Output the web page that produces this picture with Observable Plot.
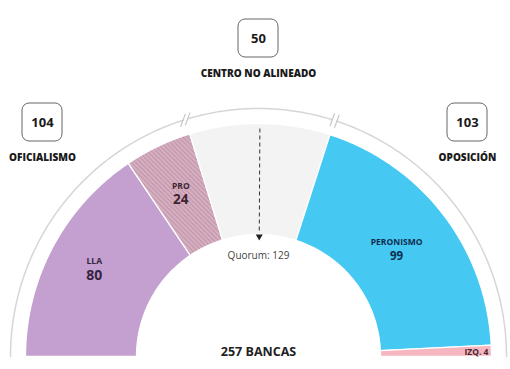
<!DOCTYPE html>
<html><head><meta charset="utf-8">
<script src="https://cdn.jsdelivr.net/npm/d3@7"></script>
<script src="https://cdn.jsdelivr.net/npm/@observablehq/plot@0.6"></script>
<style>body{margin:0;background:#fff;overflow:hidden}</style>
</head><body><div id="chart"></div>
<script>
// ---- data ----
const parties = ["LLA", "PRO", "CENTRO", "PERONISMO", "IZQ."];
const seats = [80, 24, 50, 99, 4];
const partyColors = ["#c3a0cf", "url(#hatch)", "#f3f3f3", "#45c8f2", "#f5b6c0"];
const blocs = ["OFICIALISMO", "CENTRO NO ALINEADO", "OPOSICIÓN"];
const blocSeats = [104, 50, 103];
const totalSeats = 257;
const quorum = 129;
const totalLabel = "257 BANCAS";
const quorumLabel = "Quorum: 129";

// ---- layout ----
const W = 510, H = 369, cx = 258, cy = 356, r0 = 122, r1 = 233, rOut = 248;
const ang = s => Math.PI * (1 - s / totalSeats);
const pt = (s, r) => ({x: cx + r * Math.cos(ang(s)), y: cy - r * Math.sin(ang(s))});

let cum = 0;
const segs = parties.map((p, i) => {
  const a = cum; cum += seats[i];
  return {party: p, seats: seats[i], start: a, end: cum, color: partyColors[i]};
});
function ring(a, b, ri, ro, n = 80) {
  const pts = [];
  for (let k = 0; k <= n; k++) pts.push(pt(a + (b - a) * k / n, ro));
  for (let k = n; k >= 0; k--) pts.push(pt(a + (b - a) * k / n, ri));
  pts.push(pts[0]);
  return pts;
}
function arc(a, b, r, n = 80) {
  const pts = [];
  for (let k = 0; k <= n; k++) pts.push(pt(a + (b - a) * k / n, r));
  return pts;
}

// outer arc with breaks at bloc boundaries
let bc = 0;
const bounds = blocSeats.slice(0, -1).map(v => (bc += v));
const g = 0.8;
const arcStops = [0, ...bounds.flatMap(b => [b - g, b + g]), totalSeats];
const arcPieces = [];
for (let i = 0; i < arcStops.length; i += 2) arcPieces.push(arc(arcStops[i], arcStops[i + 1], rOut));
const slashes = bounds.flatMap(b => [b - g, b + g].map(s => {
  const p = pt(s, rOut);
  return [{x: p.x - 2.2, y: p.y + 6}, {x: p.x + 2.2, y: p.y - 6}];
}));

// party labels
const labelR = {LLA: 186, PRO: 180, PERONISMO: 174};
const numSize = {LLA: 14, PRO: 13.5, PERONISMO: 11.5};
const txtFill = {LLA: "#35243f", PRO: "#3f2433", PERONISMO: "#0f2f4f"};
const labelled = segs.filter(s => labelR[s.party]).map(s => {
  const p = pt((s.start + s.end) / 2, labelR[s.party]);
  return {...s, x: p.x, y: p.y};
});
const izq = segs[segs.length - 1];
const izqP = pt((izq.start + izq.end) / 2, r1 - 3);

// bloc boxes
const boxPos = [{x: 42, y: 122}, {x: 258, y: 38}, {x: 467, y: 122}];
const boxes = blocs.map((b, i) => ({name: b, seats: blocSeats[i], ...boxPos[i]}));

const qTop = pt(quorum, r1 - 5), qBot = pt(quorum, r0 + 4), qArrow = pt(quorum, r0 - 2);

const marks = [
  ...segs.map(s => Plot.line(ring(s.start, s.end, r0, r1), {x: "x", y: "y", fill: s.color, stroke: "white", strokeWidth: 1.3, curve: "linear"})),
  ...arcPieces.map(a => Plot.line(a, {x: "x", y: "y", stroke: "#d6d6d6", strokeWidth: 1.5})),
  ...slashes.map(s => Plot.line(s, {x: "x", y: "y", stroke: "#c8c8c8", strokeWidth: 1.2})),
  Plot.link([0], {x1: () => qTop.x, y1: () => qTop.y, x2: () => qBot.x, y2: () => qBot.y, stroke: "#333", strokeWidth: 1, strokeDasharray: "4,3"}),
  Plot.dot([0], {x: () => qArrow.x, y: () => qArrow.y, symbol: "triangle", r: 2.6, fill: "#222", rotate: 180}),
  Plot.text([quorumLabel], {x: () => cx, y: () => cy - r0 + 21, text: d => d, fontSize: 10, fill: "#444"}),
  Plot.text([totalLabel], {x: () => cx, y: () => cy - 5, text: d => d, fontSize: 12.5, fontWeight: 700, fill: "#222"}),
  Plot.text(labelled, {x: "x", y: d => d.y - 8, text: "party", fontSize: 8.5, fontWeight: 700, fill: d => txtFill[d.party]}),
  Plot.text(labelled, {x: "x", y: d => d.y + 6, text: d => String(d.seats), fontSize: d => numSize[d.party], fontWeight: 700, fill: d => txtFill[d.party]}),
  Plot.text([izq], {x: () => izqP.x, y: () => izqP.y + 1, text: d => `${d.party} ${d.seats}`, fontSize: 8.5, fontWeight: 700, fill: "#4a2430", textAnchor: "end"}),
  Plot.rect(boxes, {x1: d => d.x - 20, x2: d => d.x + 20, y1: d => d.y - 19, y2: d => d.y + 19, rx: 7, fill: "white", stroke: "#666", strokeWidth: 1}),
  Plot.text(boxes, {x: "x", y: "y", text: d => String(d.seats), fontSize: 13, fontWeight: 700, fill: "#1a1a1a"}),
  Plot.text(boxes, {x: "x", y: d => d.y + 35, text: "name", fontSize: 10, fontWeight: 800, fill: "#1a1a1a", letterSpacing: "-0.2"})
];

const svg = Plot.plot({
  width: W, height: H, margin: 0,
  x: {domain: [0, W], range: [0, W], axis: null},
  y: {domain: [0, H], range: [0, H], axis: null},
  style: {fontFamily: "'Open Sans', sans-serif", background: "white"},
  marks
});
const defs = d3.select(svg).insert("defs", ":first-child");
const pat = defs.append("pattern").attr("id", "hatch").attr("patternUnits", "userSpaceOnUse")
  .attr("width", 3.2).attr("height", 3.2).attr("patternTransform", "rotate(-45)");
pat.append("rect").attr("width", 3.2).attr("height", 3.2).attr("fill", "#d4adbf");
pat.append("line").attr("x1", 0).attr("y1", 0).attr("x2", 0).attr("y2", 3.2).attr("stroke", "#b98aa0").attr("stroke-width", 1.3);
document.getElementById("chart").appendChild(svg);
</script>
</body></html>
